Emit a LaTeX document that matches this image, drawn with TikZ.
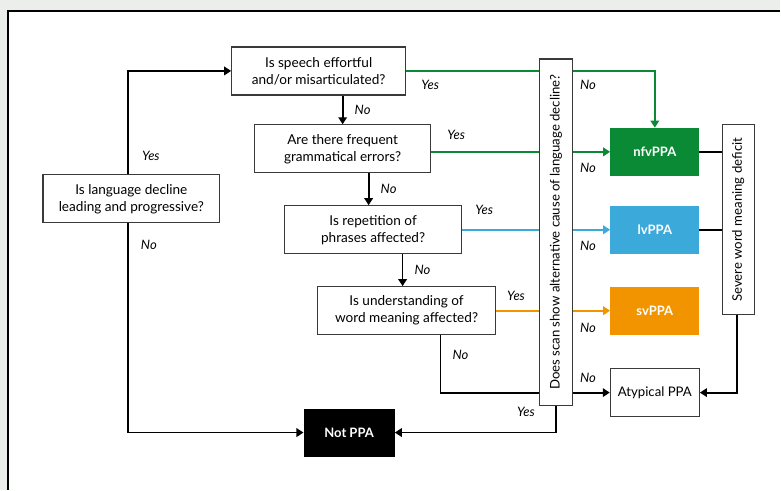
\documentclass[tikz,border=0pt]{standalone}
\usepackage{fontspec}
\setmainfont{Lato}
\usepackage{graphicx}
\usetikzlibrary{arrows.meta,positioning}
\definecolor{panelgray}{HTML}{ECEEEC}
\definecolor{boxgray}{HTML}{3A3A3A}
\definecolor{nfvgreen}{HTML}{0B8A36}
\definecolor{lvblue}{HTML}{3CA9DB}
\definecolor{svorange}{HTML}{F29400}

\begin{document}
\begin{tikzpicture}[x=1pt,y=-1pt,
    question/.style={draw=boxgray,line width=1.2pt,fill=white,minimum width=176pt,
      minimum height=48pt,inner sep=0pt,align=center,font=\fontsize{13.6}{17}\selectfont},
    outcome/.style={minimum width=89pt,minimum height=48pt,inner sep=0pt,text=white,
      font=\bfseries\fontsize{13}{15}\selectfont},
    tall/.style={draw=boxgray,line width=1.2pt,fill=white,inner sep=0pt,
      font=\fontsize{13.2}{15}\selectfont},
    ans/.style={font=\itshape\fontsize{13}{15}\selectfont,inner sep=0pt},
    flow/.style={line width=1.8pt,-{Triangle[length=7pt,width=8.5pt]}},
    link/.style={line width=1.8pt}]
  \fill[panelgray] (0,0) rectangle (781,490);
  \fill[white] (8,11) rectangle (781,490);
  \draw[line width=1.6pt] (8,490) -- (8,11) -- (781,11);
  \useasboundingbox (0,0) rectangle (781,490);

  \node[question,minimum width=177pt] (lead) at (131.5,199) {Is language decline\\leading and progressive?};
  \node[question,minimum width=174pt] (effort) at (319,71) {Is speech effortful\\and/or misarticulated?};
  \node[question] (gram) at (343,149) {Are there frequent\\grammatical errors?};
  \node[question,minimum width=177pt] (rep) at (373.5,230) {Is repetition of\\phrases affected?};
  \node[question,minimum width=178pt] (word) at (407,311) {Is understanding of\\word meaning affected?};
  \node[tall,minimum width=33pt,minimum height=347pt] (scan) at (556.5,232.5)
    {\rotatebox{90}{Does scan show alternative cause of language decline?}};
  \node[tall,minimum width=32pt,minimum height=190pt] (severe) at (739,220)
    {\rotatebox{90}{Severe word meaning deficit}};
  \node[outcome,fill=nfvgreen] (nfv) at (655.5,152) {nfvPPA};
  \node[outcome,fill=lvblue] (lv) at (655.5,230) {lvPPA};
  \node[outcome,fill=svorange] (sv) at (655.5,311) {svPPA};
  \node[tall,minimum width=89pt,minimum height=48pt] (atyp) at (655.5,393) {Atypical PPA};
  \node[outcome,fill=black,minimum width=91pt] (notppa) at (349.5,433) {Not PPA};

  \draw[flow] ([xshift=-3.5pt]lead.north) |- node[ans,pos=0.09,xshift=23pt]{Yes} (effort.west);
  \draw[flow] ([xshift=-3.5pt]lead.south) |- node[ans,pos=0.052,xshift=21pt]{No} (notppa.west);
  \draw[flow] (gram.north |- effort.south) -- node[ans,xshift=20pt]{No} (gram.north);
  \draw[flow] ([xshift=26pt]gram.south) -- node[ans,xshift=20pt]{No} ([xshift=26pt]gram.south |- rep.north);
  \draw[flow] ([xshift=29.5pt]rep.south) -- node[ans,xshift=20pt]{No} ([xshift=29.5pt]rep.south |- word.north);

  \draw[link,nfvgreen] (effort.east) -- node[ans,pos=0,xshift=24pt,yshift=-14pt,text=black]{Yes} (effort.east -| scan.west);
  \draw[flow,nfvgreen] (effort.east -| scan.east) -| node[ans,pos=0,xshift=15pt,yshift=-14pt,text=black]{No} (nfv.north);
  \draw[link,nfvgreen] (gram.east |- nfv.west) -- node[ans,pos=0,xshift=25pt,yshift=17pt,text=black]{Yes} (scan.west |- nfv.west);
  \draw[flow,nfvgreen] (scan.east |- nfv.west) -- node[ans,pos=0,xshift=15pt,yshift=-16pt,text=black]{No} (nfv.west);
  \draw[link,lvblue] (rep.east) -- node[ans,pos=0,xshift=22pt,yshift=20pt,text=black]{Yes} (scan.west |- lv.west);
  \draw[flow,lvblue] (scan.east |- lv.west) -- node[ans,pos=0,xshift=15pt,yshift=-16pt,text=black]{No} (lv.west);
  \draw[link,svorange] (word.east) -- node[ans,pos=0,xshift=20pt,yshift=15pt,text=black]{Yes} (scan.west |- sv.west);
  \draw[flow,svorange] (scan.east |- sv.west) -- node[ans,pos=0,xshift=15pt,yshift=-17pt,text=black]{No} (sv.west);

  \draw[link] ([xshift=34pt]word.south) |- node[ans,pos=0.17,xshift=20pt]{No} (scan.west |- atyp.west);
  \draw[flow] (scan.east |- atyp.west) -- node[ans,pos=0,xshift=15pt,yshift=15pt]{No} (atyp.west);
  \draw[flow] (scan.south) |- node[ans,pos=0.11,xshift=-30pt]{Yes} (notppa.east);
  \draw[link] (nfv.east) -- (severe.west |- nfv.east);
  \draw[link] (lv.east) -- (severe.west |- lv.east);
  \draw[flow] ([xshift=-1pt]severe.south) |- (atyp.east);
\end{tikzpicture}
\end{document}
